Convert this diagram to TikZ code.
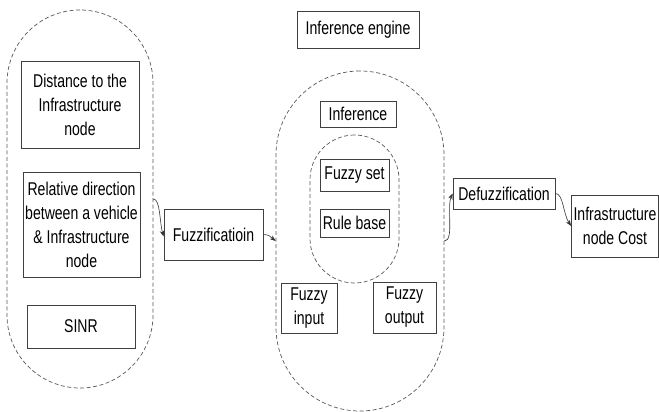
\documentclass[tikz,border=0pt]{standalone}
\usepackage{fontspec}
\setmainfont{Liberation Sans}[FakeStretch=0.76]
\usetikzlibrary{arrows.meta}
\tikzset{
  box/.style={draw=black!75, line width=0.8pt, fill=white, inner sep=0pt, align=center,
    font=\fontsize{18.5}{24}\selectfont},
  stadium/.style={draw=black!65, dashed, dash pattern=on 4pt off 2.5pt, line width=0.7pt, inner sep=0pt},
  conn/.style={draw=black!80, line width=0.6pt, -{Stealth[length=6pt,width=4.5pt]}}
}
\begin{document}
\begin{tikzpicture}[x=1pt,y=-1pt]
\useasboundingbox (0,0) rectangle (659,412);
% containers
\node[stadium, minimum width=146pt, minimum height=378pt, rounded corners=73pt] (L) at (80,199) {};
\node[stadium, minimum width=168pt, minimum height=340pt, rounded corners=84pt] (M) at (360,241) {};
\node[stadium, minimum width=89pt, minimum height=148pt, rounded corners=44.5pt] (I) at (354.5,209) {};
% boxes
\node[box, minimum width=118pt, minimum height=87pt] (dist) at (80,104.5) {Distance to the\\Infrastructure\\node};
\node[box, minimum width=117pt, minimum height=105pt] (rel) at (81.5,224.5) {Relative direction\\between a vehicle\\\& Infrastructure\\node};
\node[box, minimum width=108pt, minimum height=43pt] (sinr) at (81,326.5) {SINR};
\node[box, minimum width=99pt, minimum height=51pt] (fuzz) at (213.5,234.5) {Fuzzificatioin};
\node[box, minimum width=122pt, minimum height=37pt] (ie) at (358,29.5) {Inference engine};
\node[box, minimum width=76pt, minimum height=26pt] (inf) at (358,114) {Inference};
\node[box, minimum width=69pt, minimum height=32pt] (fset) at (354.5,175) {Fuzzy set};
\node[box, minimum width=69pt, minimum height=28pt] (rule) at (354.5,223) {Rule base};
\node[box, minimum width=56pt, minimum height=50pt] (fin) at (309,308) {Fuzzy\\input};
\node[box, minimum width=63pt, minimum height=51pt] (fout) at (404.5,307.5) {Fuzzy\\output};
\node[box, minimum width=102pt, minimum height=31pt] (defz) at (504,193.5) {Defuzzification};
\node[box, minimum width=87pt, minimum height=62pt] (cost) at (615,226) {Infrastructure\\node Cost};
% connectors
\draw[conn] (L.east) .. controls +(7,0) and +(-4,-14) .. ([yshift=-2pt]fuzz.west);
\draw[conn] (fuzz.east) .. controls +(6,0) and +(-5,-4) .. (M.west);
\draw[conn] (M.east) .. controls +(10,0) and +(-6,14) .. (defz.west);
\draw[conn] (defz.east) .. controls +(8,0) and +(-8,-12) .. (cost.west);
\end{tikzpicture}
\end{document}
